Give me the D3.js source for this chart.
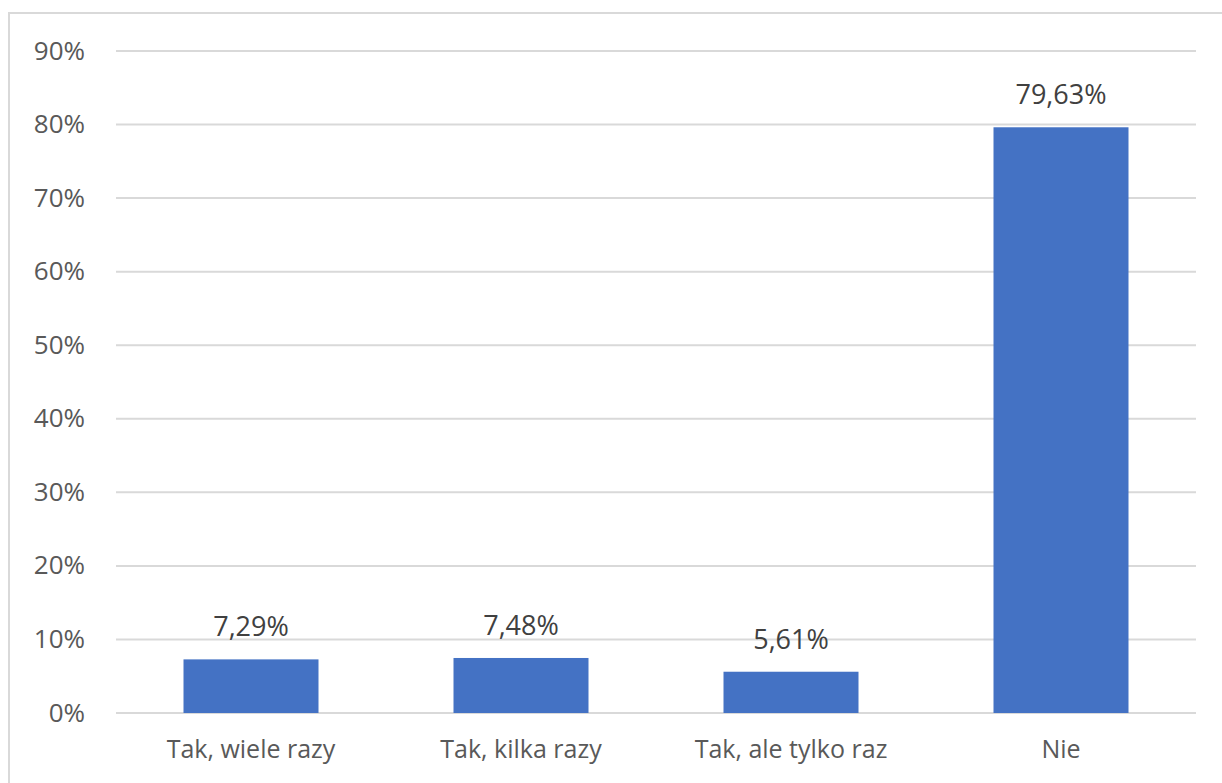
<!DOCTYPE html>
<html><head><meta charset="utf-8">
<script src="https://cdn.jsdelivr.net/npm/d3@7"></script>
<style>body{margin:0;background:#fff}svg{display:block}</style>
</head><body>
<script>
const categories = ["Tak, wiele razy", "Tak, kilka razy", "Tak, ale tylko raz", "Nie"];
const values = [7.29, 7.48, 5.61, 79.63];
const tickValues = [0, 10, 20, 30, 40, 50, 60, 70, 80, 90];

const W = 1222, H = 783;
const svg = d3.select("body").append("svg").attr("width", W).attr("height", H);
const font = "'Open Sans', 'Noto Sans', sans-serif";

svg.append("rect").attr("x", 9).attr("y", 13).attr("width", W + 10).attr("height", H + 10)
  .attr("fill", "none").attr("stroke", "#d9d9d9").attr("stroke-width", 2);

const mLeft = 116, mRight = 1196, mTop = 51, mBottom = 713;
const x = d3.scaleBand().domain(categories).range([mLeft, mRight]).paddingInner(0.5).paddingOuter(0.25);
const y = d3.scaleLinear().domain([0, 90]).range([mBottom, mTop]);

const yAxis = d3.axisLeft(y).tickValues(tickValues).tickFormat(d => d + "%").tickSize(0).tickPadding(0);
const gy = svg.append("g").attr("transform", `translate(${mLeft},0)`).call(yAxis);
gy.select(".domain").remove();
gy.selectAll("text").attr("x", -31).attr("y", 8).attr("dy", 0)
  .attr("font-family", font).attr("font-size", 26).attr("fill", "#595959");

svg.append("g").selectAll("line").data(tickValues).join("line")
  .attr("x1", mLeft).attr("x2", mRight).attr("y1", d => y(d)).attr("y2", d => y(d))
  .attr("stroke", "#d9d9d9").attr("stroke-width", 2);

svg.append("g").selectAll("rect").data(values).join("rect")
  .attr("x", (d, i) => x(categories[i])).attr("width", x.bandwidth())
  .attr("y", d => y(d)).attr("height", d => y(0) - y(d)).attr("fill", "#4472c4");

svg.append("g").selectAll("text").data(values).join("text")
  .attr("x", (d, i) => x(categories[i]) + x.bandwidth() / 2).attr("y", d => y(d) - 23)
  .attr("text-anchor", "middle").attr("font-family", font).attr("font-size", 27).attr("fill", "#404040")
  .text(d => d.toFixed(2).replace(".", ",") + "%");

const xAxis = d3.axisBottom(x).tickSize(0).tickPadding(0);
const gx = svg.append("g").attr("transform", `translate(0,${mBottom})`).call(xAxis);
gx.select(".domain").remove();
gx.selectAll("text").attr("y", 45).attr("dy", 0).attr("font-family", font).attr("font-size", 25).attr("fill", "#595959");
</script>
</body></html>
